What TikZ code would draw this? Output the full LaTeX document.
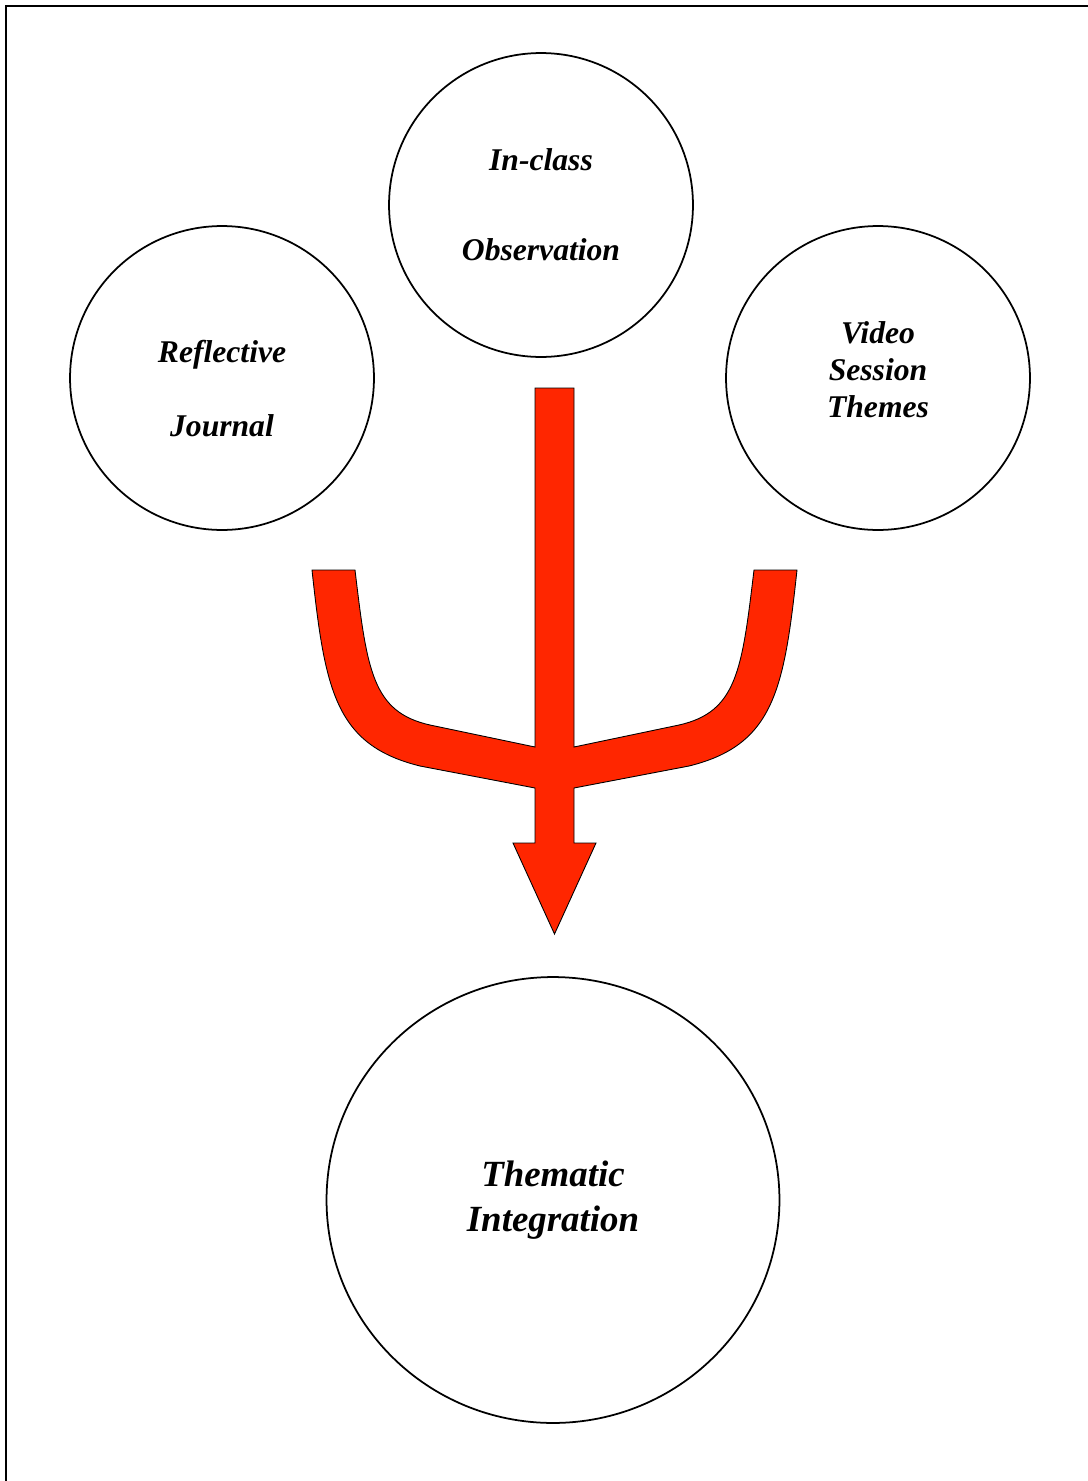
\documentclass[tikz,border=0pt]{standalone}
\usepackage{fontspec}
\setmainfont{Liberation Serif}
\usepackage{xcolor}
\usetikzlibrary{shapes.geometric}
\definecolor{trired}{HTML}{FF2600}

\begin{document}
\begin{tikzpicture}[
    x=0.02cm, y=-0.02cm,
    font=\bfseries\itshape\fontsize{18}{21}\selectfont,
    source/.style={draw, circle, line width=1pt, minimum size=6.08cm, inner sep=0pt, align=center},
    target/.style={draw, ellipse, line width=1pt, minimum width=9.06cm, minimum height=8.92cm, inner sep=0pt, align=center,
        font=\bfseries\itshape\fontsize{21}{25.5}\selectfont},
    trident/.style={fill=trired, draw=black, line width=0.5pt, line join=miter}
]
\useasboundingbox (0,0) rectangle (1088,1481);

% Page frame
\draw[line width=1.1pt] (6,1481) -- (6,6) -- (1088,6);

% Data sources
\node[source] (obs) at (541,205) {In-class\\[30pt]Observation};
\node[source] (journal) at (222,378) {\rule{0pt}{25pt}Reflective\\[21pt]Journal};
\node[source] (video) at (878,378) {Video\\Session\\Themes\rule[-10pt]{0pt}{1pt}};

% Result
\node[target] (integ) at (553,1200) {Thematic\\Integration};

% Merging arrow
\draw[trident] (535,388) -- (535,747) -- (430,725)
    .. controls (372,712) and (367,670) .. (355,570) -- (312,570)
    .. controls (325,690) and (335,745) .. (420,766) -- (535,788)
    -- (535,843) -- (513,843) -- (554.5,934) -- (596,843) -- (574,843) -- (574,788)
    -- (689,766) .. controls (774,745) and (784,690) .. (797,570) -- (754,570)
    .. controls (742,670) and (737,712) .. (679,725) -- (574,747) -- (574,388) -- cycle;
\end{tikzpicture}
\end{document}
